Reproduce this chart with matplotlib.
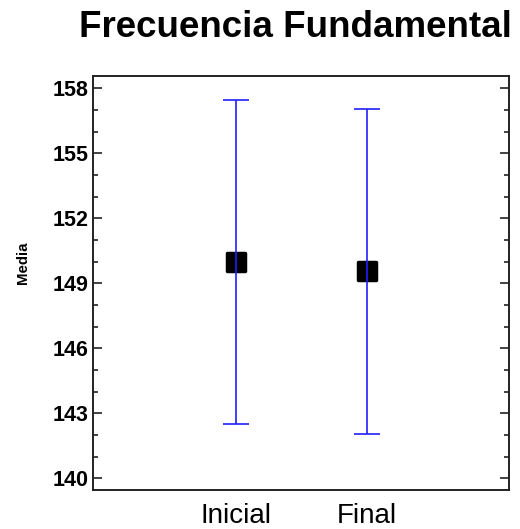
import numpy as np
import matplotlib
matplotlib.use("Agg")
import matplotlib.pyplot as plt
from matplotlib.ticker import MultipleLocator
from matplotlib.markers import MarkerStyle

# data
groups = ["Inicial", "Final"]
means = [149.97, 149.56]
lower = [142.49, 142.06]
upper = [157.45, 157.06]

plt.rcParams['font.family'] = ['Liberation Sans', 'DejaVu Sans']

fig = plt.figure(figsize=(5.2, 5.29), dpi=100, facecolor='white')
ax = fig.add_axes([0.1794, 0.0737, 0.80, 0.7832])

x = np.arange(1, len(groups) + 1)
means = np.array(means)
err = [means - np.array(lower), np.array(upper) - means]

# markers below the interval lines
sq = MarkerStyle('s', joinstyle='round')
ax.plot(x, means, linestyle='none', marker=sq, color='black', ms=12.5,
        mew=2.5, mec='black', zorder=2)
ax.errorbar(x, means, yerr=err, fmt='none', ecolor='#2020ff', elinewidth=1.2,
            capsize=9.7, capthick=1.2, zorder=3)

ax.set_xlim(-0.092, 3.091)
ax.set_ylim(139.46, 158.58)
ax.set_xticks(x)
ax.set_xticklabels(groups, fontsize=20)
ax.set_yticks(np.arange(140, 159, 3))
ax.yaxis.set_minor_locator(MultipleLocator(1))
ax.tick_params(axis='x', length=0, pad=9)
ax.tick_params(axis='y', which='major', direction='in', length=6.5, width=1.2,
               left=True, right=True, labelsize=15.5, pad=3.6, color='#222222')
ax.tick_params(axis='y', which='minor', direction='in', length=3.8, width=1.2,
               left=True, right=True, color='#222222')
for lab in ax.get_yticklabels():
    lab.set_fontweight('bold')

for sp in ax.spines.values():
    sp.set_linewidth(1.4)
    sp.set_color('#222222')

fig.text(0.0433, 0.504, 'Media', rotation=90, ha='center', va='center',
         fontsize=10.8, fontweight='bold')
fig.text(0.568, 0.9295, 'Frecuencia Fundamental', ha='center', va='baseline',
         fontsize=26.5, fontweight='bold')

fig.savefig('out.png', dpi=100)
